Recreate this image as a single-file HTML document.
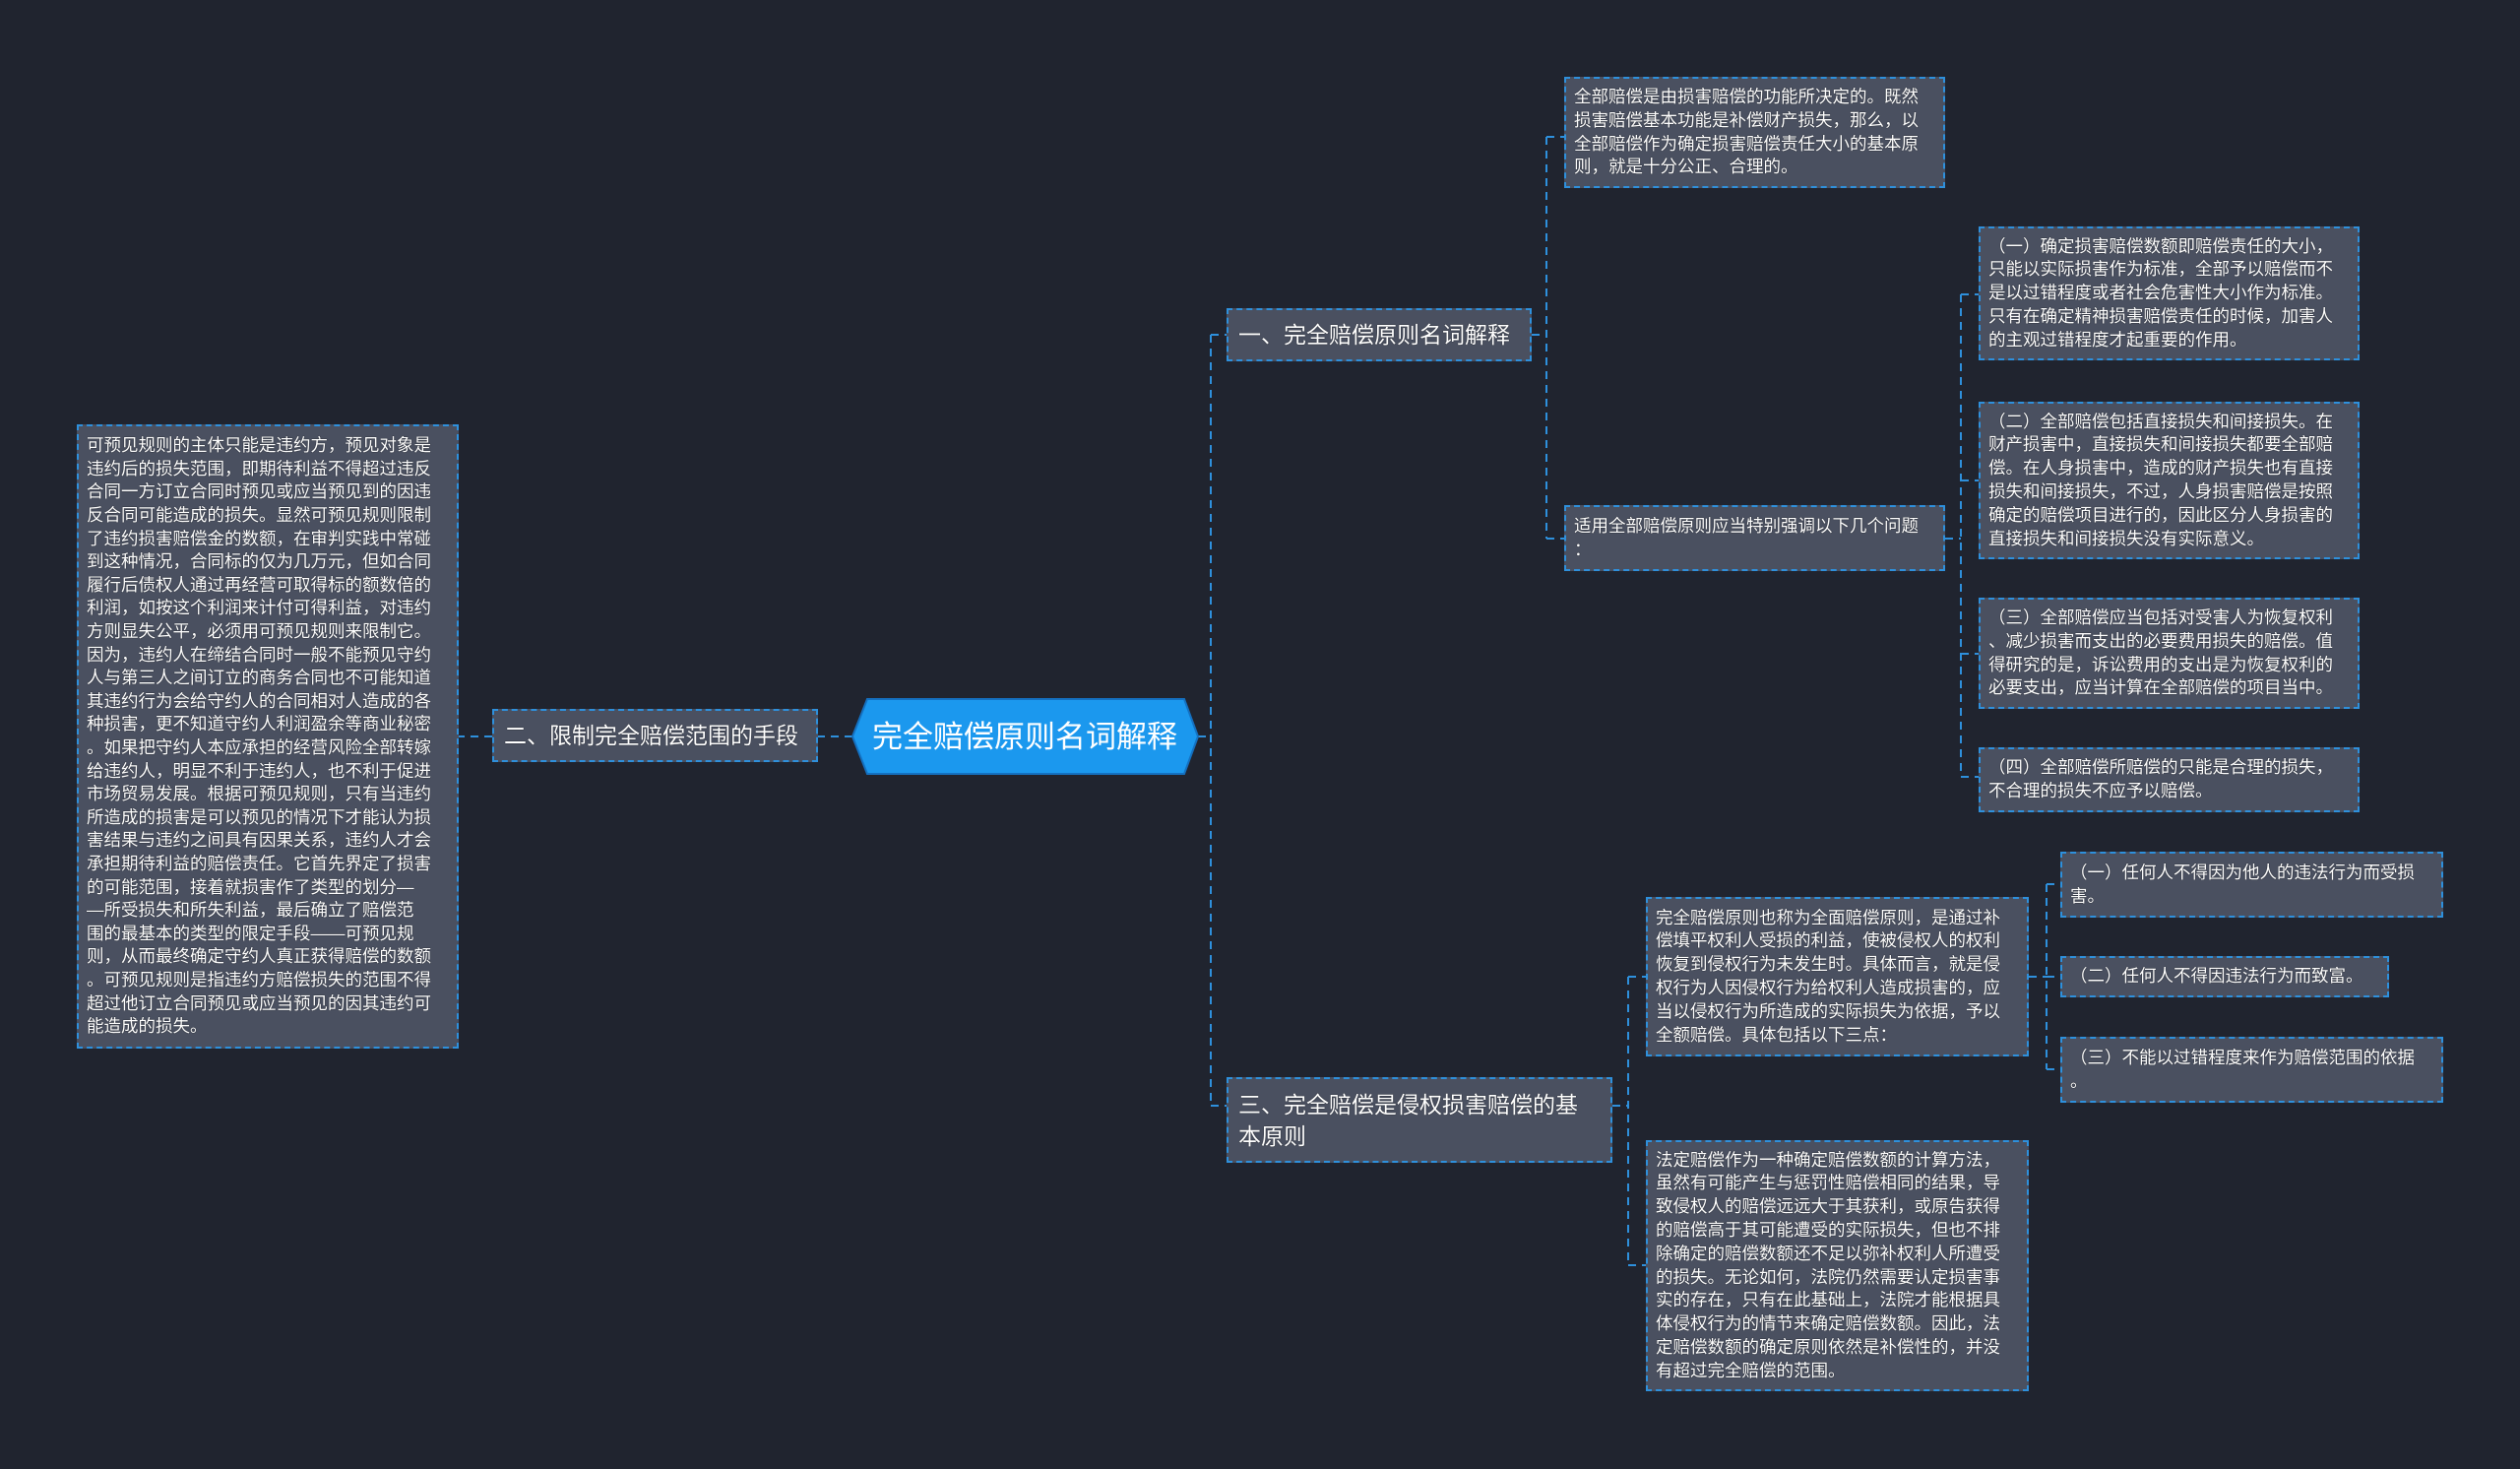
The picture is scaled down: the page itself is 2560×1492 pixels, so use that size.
<!DOCTYPE html>
<html><head><meta charset="utf-8"><style>
body{margin:0;width:2560px;height:1492px;background:#20242f;position:relative;overflow:hidden;font-family:"Liberation Sans","Noto Sans CJK SC",sans-serif;}
.b{position:absolute;box-sizing:border-box;background:#4a5060;border:2px dashed #2e90dc;color:#fff;font-size:17.5px;line-height:23.8px;padding:6px 4px 6px 8px;display:flex;align-items:center;text-shadow:0 0 1px #000;white-space:nowrap;}
.b div{width:100%;}
.n{font-size:23px;line-height:32px;padding:6px 10px;}
svg{position:absolute;left:0;top:0;}
</style></head><body>
<svg width="2560" height="1492">
<g stroke="#2e90dc" stroke-width="2" stroke-dasharray="8,6" fill="none">
<path d="M1217 748 H1230 M1230 340 V1123 M1230 340 H1246 M1230 1123 H1246"/>
<path d="M866 748 H831 M500 748 H465"/>
<path d="M1556 340 H1571 M1571 139 V547 M1571 139 H1589 M1571 547 H1589"/>
<path d="M1976 547 H1992 M1992 299 V789 M1992 299 H2010 M1992 488 H2010 M1992 664 H2010 M1992 789 H2010"/>
<path d="M1638 1123 H1654 M1654 992 V1285 M1654 992 H1672 M1654 1285 H1672"/>
<path d="M2061 992 H2079 M2079 898 V1086 M2079 898 H2093 M2079 992 H2093 M2079 1086 H2093"/>
</g>
</svg>
<svg width="2560" height="1492"><polygon points="881,710 1203,710 1217,748 1203,786 881,786 866,748" fill="#1b98ee" stroke="#1470c0" stroke-width="2"/>
<text x="1041" y="759" fill="#fff" font-size="31" text-anchor="middle" font-family="Liberation Sans, Noto Sans CJK SC, sans-serif">完全赔偿原则名词解释</text></svg>

<div class="b n" style="left:500px;top:720px;width:331px;height:54px"><div>二、限制完全赔偿范围的手段</div></div>
<div class="b" style="left:78px;top:431px;width:388px;height:634px;line-height:23.6px"><div>可预见规则的主体只能是违约方，预见对象是<br>违约后的损失范围，即期待利益不得超过违反<br>合同一方订立合同时预见或应当预见到的因违<br>反合同可能造成的损失。显然可预见规则限制<br>了违约损害赔偿金的数额，在审判实践中常碰<br>到这种情况，合同标的仅为几万元，但如合同<br>履行后债权人通过再经营可取得标的额数倍的<br>利润，如按这个利润来计付可得利益，对违约<br>方则显失公平，必须用可预见规则来限制它。<br>因为，违约人在缔结合同时一般不能预见守约<br>人与第三人之间订立的商务合同也不可能知道<br>其违约行为会给守约人的合同相对人造成的各<br>种损害，更不知道守约人利润盈余等商业秘密<br>。如果把守约人本应承担的经营风险全部转嫁<br>给违约人，明显不利于违约人，也不利于促进<br>市场贸易发展。根据可预见规则，只有当违约<br>所造成的损害是可以预见的情况下才能认为损<br>害结果与违约之间具有因果关系，违约人才会<br>承担期待利益的赔偿责任。它首先界定了损害<br>的可能范围，接着就损害作了类型的划分—<br>—所受损失和所失利益，最后确立了赔偿范<br>围的最基本的类型的限定手段——可预见规<br>则，从而最终确定守约人真正获得赔偿的数额<br>。可预见规则是指违约方赔偿损失的范围不得<br>超过他订立合同预见或应当预见的因其违约可<br>能造成的损失。</div></div>

<div class="b n" style="left:1246px;top:313px;width:310px;height:54px"><div>一、完全赔偿原则名词解释</div></div>
<div class="b" style="left:1589px;top:78px;width:387px;height:113px"><div>全部赔偿是由损害赔偿的功能所决定的。既然<br>损害赔偿基本功能是补偿财产损失，那么，以<br>全部赔偿作为确定损害赔偿责任大小的基本原<br>则，就是十分公正、合理的。</div></div>
<div class="b" style="left:1589px;top:513px;width:387px;height:67px"><div>适用全部赔偿原则应当特别强调以下几个问题<br>：</div></div>
<div class="b" style="left:2010px;top:230px;width:387px;height:136px"><div>（一）确定损害赔偿数额即赔偿责任的大小，<br>只能以实际损害作为标准，全部予以赔偿而不<br>是以过错程度或者社会危害性大小作为标准。<br>只有在确定精神损害赔偿责任的时候，加害人<br>的主观过错程度才起重要的作用。</div></div>
<div class="b" style="left:2010px;top:408px;width:387px;height:160px"><div>（二）全部赔偿包括直接损失和间接损失。在<br>财产损害中，直接损失和间接损失都要全部赔<br>偿。在人身损害中，造成的财产损失也有直接<br>损失和间接损失，不过，人身损害赔偿是按照<br>确定的赔偿项目进行的，因此区分人身损害的<br>直接损失和间接损失没有实际意义。</div></div>
<div class="b" style="left:2010px;top:607px;width:387px;height:113px"><div>（三）全部赔偿应当包括对受害人为恢复权利<br>、减少损害而支出的必要费用损失的赔偿。值<br>得研究的是，诉讼费用的支出是为恢复权利的<br>必要支出，应当计算在全部赔偿的项目当中。</div></div>
<div class="b" style="left:2010px;top:759px;width:387px;height:66px"><div>（四）全部赔偿所赔偿的只能是合理的损失，<br>不合理的损失不应予以赔偿。</div></div>

<div class="b n" style="left:1246px;top:1094px;width:392px;height:87px"><div>三、完全赔偿是侵权损害赔偿的基<br>本原则</div></div>
<div class="b" style="left:1672px;top:911px;width:389px;height:162px"><div>完全赔偿原则也称为全面赔偿原则，是通过补<br>偿填平权利人受损的利益，使被侵权人的权利<br>恢复到侵权行为未发生时。具体而言，就是侵<br>权行为人因侵权行为给权利人造成损害的，应<br>当以侵权行为所造成的实际损失为依据，予以<br>全额赔偿。具体包括以下三点：</div></div>
<div class="b" style="left:1672px;top:1158px;width:389px;height:255px"><div>法定赔偿作为一种确定赔偿数额的计算方法，<br>虽然有可能产生与惩罚性赔偿相同的结果，导<br>致侵权人的赔偿远远大于其获利，或原告获得<br>的赔偿高于其可能遭受的实际损失，但也不排<br>除确定的赔偿数额还不足以弥补权利人所遭受<br>的损失。无论如何，法院仍然需要认定损害事<br>实的存在，只有在此基础上，法院才能根据具<br>体侵权行为的情节来确定赔偿数额。因此，法<br>定赔偿数额的确定原则依然是补偿性的，并没<br>有超过完全赔偿的范围。</div></div>
<div class="b" style="left:2093px;top:865px;width:389px;height:67px"><div>（一）任何人不得因为他人的违法行为而受损<br>害。</div></div>
<div class="b" style="left:2093px;top:971px;width:334px;height:42px"><div>（二）任何人不得因违法行为而致富。</div></div>
<div class="b" style="left:2093px;top:1053px;width:389px;height:67px"><div>（三）不能以过错程度来作为赔偿范围的依据<br>。</div></div>
</body></html>
